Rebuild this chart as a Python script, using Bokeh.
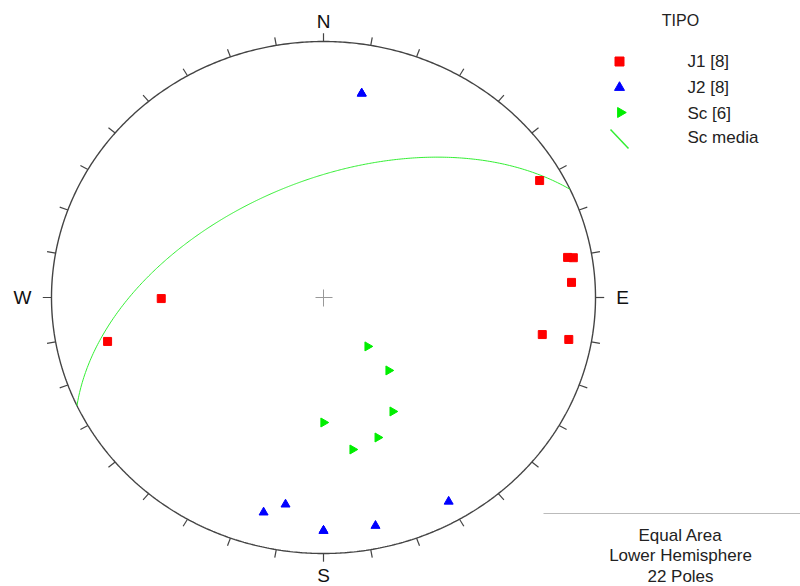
import math
import numpy as np
from bokeh.plotting import figure
from bokeh.models import Range1d
from bokeh.core.properties import value
from bokeh.embed import file_html
from bokeh.resources import INLINE

# ---- data: poles as trend / plunge (degrees) ----
j1_trend = [60.1, 80.1, 80.4, 86.3, 100.2, 100.3, 269.6, 257.8]
j1_plunge = [9.2, 9.8, 7.6, 9.5, 19.4, 9.2, 40.1, 19.9]

j2_trend = [10.0, 10.0, 194.7, 189.8, 180.0, 180.0, 167.9, 150.0]
j2_plunge = [20.2, 20.2, 14.3, 19.1, 9.8, 9.8, 9.7, 8.8]

sc_trend = [139.7, 140.0, 150.3, 180.0, 160.0, 169.8]
sc_plunge = [69.6, 59.5, 47.5, 49.6, 41.4, 39.5]

# mean Sc plane (dip direction / dip)
sc_media_dipdir = 335.0
sc_media_dip = 53.0

legend_labels = ["J1 [8]", "J2 [8]", "Sc [6]", "Sc media"]
direction_labels = ["N", "E", "S", "W"]
info_lines = ["Equal Area", "Lower Hemisphere", "22 Poles"]

FONT = value("Liberation Sans")


def project(trend, plunge):
    t = np.radians(np.asarray(trend, dtype=float))
    pl = np.radians(np.asarray(plunge, dtype=float))
    r = math.sqrt(2.0) * np.sin((np.pi / 2 - pl) / 2.0)
    return r * np.sin(t), r * np.cos(t)


# screen pixel -> data helpers (layout only)
CX, CY, RX, RY = 323.0, 297.0, 272.0, 256.0


def px(x):
    return (x - CX) / RX


def py(y):
    return (CY - y) / RY


W, H = 800, 586
p = figure(width=W, height=H, output_backend="svg", toolbar_location=None,
           x_range=Range1d(px(0), px(W)), y_range=Range1d(py(H), py(0)),
           min_border=0, min_border_left=0, min_border_right=0,
           min_border_top=0, min_border_bottom=0)
p.axis.visible = False
p.grid.visible = False
p.outline_line_color = None
p.background_fill_color = "white"
p.border_fill_color = "white"

# primitive circle
a = np.radians(np.linspace(0, 360, 721))
p.line(np.sin(a), np.cos(a), line_color="#444444", line_width=1.4)

# ticks every 10 degrees
ta = np.radians(np.arange(0, 360, 10))
xs = [[math.sin(v), 1.032 * math.sin(v)] for v in ta]
ys = [[math.cos(v), 1.032 * math.cos(v)] for v in ta]
p.multi_line(xs, ys, line_color="#444444", line_width=1.2)

# center cross
p.multi_line([[px(315), px(332)], [0, 0]], [[0, 0], [py(289), py(306)]],
             line_color="#999999", line_width=1)

# direction labels
p.text(x=[0, px(622), 0, px(22)], y=[py(21), 0, py(575), 0], text=direction_labels,
       text_font=FONT, text_font_size="19px", text_align="center",
       text_baseline="middle", text_color="#111111")

# Sc media great circle
dd = sc_media_dipdir
tt = np.linspace(dd - 90, dd + 90, 361)
app = np.degrees(np.arctan(np.tan(np.radians(sc_media_dip)) * np.cos(np.radians(tt - dd))))
gx, gy = project(tt, app)
p.line(gx, gy, line_color="#33ee33", line_width=1)

# poles
x1, y1 = project(j1_trend, j1_plunge)
p.scatter(x1, y1, marker="square", size=8, fill_color="#ff0000", line_color="#ff0000")
x2, y2 = project(j2_trend, j2_plunge)
p.scatter(x2, y2, marker="triangle", size=9, fill_color="#0000ff", line_color="#0000ff")
x3, y3 = project(sc_trend, sc_plunge)
p.scatter(x3, y3, marker="triangle", size=9, angle=-math.pi / 2,
          fill_color="#00ee00", line_color="#00ee00")

# legend
p.text(x=[px(680)], y=[py(20)], text=["TIPO"], text_font=FONT, text_font_size="16px",
       text_align="center", text_baseline="middle", text_color="#222222")
p.scatter([px(619)], [py(61)], marker="square", size=9, fill_color="#ff0000", line_color="#ff0000")
p.scatter([px(619)], [py(87)], marker="triangle", size=10, fill_color="#0000ff", line_color="#0000ff")
p.scatter([px(620)], [py(112)], marker="triangle", size=10, angle=-math.pi / 2,
          fill_color="#00ee00", line_color="#00ee00")
p.line([px(610), px(628)], [py(129), py(148)], line_color="#33ee33", line_width=1.5)
p.text(x=[px(687)] * 4, y=[py(61), py(87), py(113), py(137)], text=legend_labels,
       text_font=FONT, text_font_size="17px", text_align="left",
       text_baseline="middle", text_color="#222222")

# info box
p.line([px(543), px(800)], [py(513), py(513)], line_color="#bbbbbb", line_width=1.2)
p.text(x=[px(680)] * 3, y=[py(535), py(555), py(576)], text=info_lines,
       text_font=FONT, text_font_size="17px", text_align="center",
       text_baseline="middle", text_color="#222222")

open("out.html", "w").write(file_html(p, INLINE))
